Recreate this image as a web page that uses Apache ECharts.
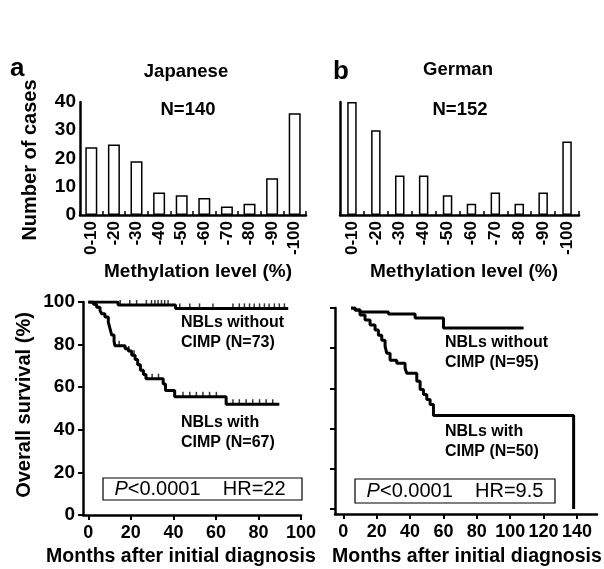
<!DOCTYPE html>
<html><head><meta charset="utf-8">
<script src="https://cdn.jsdelivr.net/npm/echarts@6/dist/echarts.min.js"></script>
<style>html,body{margin:0;padding:0;background:#fff}#c{width:604px;height:569px}</style>
</head><body><div id="c"></div>
<script>
// ---- data ----
const methylCats = ['0-10', '-20', '-30', '-40', '-50', '-60', '-70', '-80', '-90', '-100'];
const japaneseCounts = [24, 25, 19, 8, 7, 6, 3, 4, 13, 36];
const germanCounts = [40, 30, 14, 14, 7, 4, 8, 4, 8, 26];
const countTicks = [0, 10, 20, 30, 40];

const jpnWithout = [[0, 100], [14, 98.6], [41, 97], [94, 97]];
const jpnWith = [[0, 100], [2.4, 99], [3.9, 97.5], [5.5, 96], [6.3, 94.5], [7.8, 93], [9.4, 90.5], [10.2, 87.5],
  [11, 84.5], [12.1, 81.5], [12.5, 79.5], [17.3, 78], [18.8, 77], [20.4, 75], [22, 73], [23.2, 70.5], [24.5, 68],
  [25.9, 66], [27.1, 64], [35.2, 61.5], [36.3, 58.5], [40.6, 55.5], [64.8, 52], [89.8, 52]];
const jpnWithoutCensor = [15, 19.5, 22.7, 27.3, 29.7, 31.3, 32.8, 34.4, 35.9, 37.5, 43, 47.7, 52.3, 58.6,
  68, 71, 73.4, 75.8, 78, 80.5, 82.8, 85, 87.5, 89.8, 92.2];
const jpnWithCensor = [14.5, 19, 21.5, 30, 33, 44.5, 47.7, 50.8, 53.9, 57, 60.2, 68, 71, 74.2, 77.3, 80.5, 83.6, 86.7];

const gerWithout = [[4.6, 100], [7, 99], [10, 98], [27, 97], [43, 95], [60, 90], [108, 90]];
const gerWith = [[4.6, 100], [7, 99], [10, 96.5], [13, 94], [16, 91.5], [19, 89], [21, 86.5], [23, 84], [25, 81],
  [26, 77.5], [28, 74], [32, 72.5], [37, 70], [38, 67.5], [44, 63.5], [46, 59.5], [48, 57], [50, 54.5], [52, 52],
  [54, 46.5], [138, 0]];

const monthTicksA = [0, 20, 40, 60, 80, 100];
const monthTicksB = [0, 20, 40, 60, 80, 100, 120, 140];
const survTicks = [0, 20, 40, 60, 80, 100];

// ---- helpers ----
function survAt(curve, t) {
  let v = curve[0][1];
  for (const p of curve) { if (p[0] <= t) v = p[1]; }
  return v;
}
const FF = '"Liberation Sans", Arial, Helvetica, sans-serif';
const black = '#000';

function catX(grid) {
  return {
    type: 'category', gridIndex: grid, data: methylCats,
    axisLine: { show: true, onZero: false, lineStyle: { color: black, width: 2.5 } },
    axisTick: { show: true, inside: true, length: 4, lineStyle: { color: black, width: 1.5 } },
    axisLabel: { rotate: 90, color: black, fontFamily: FF, fontWeight: 'bold', fontSize: 17, margin: 6 },
    splitLine: { show: false }
  };
}
function countY(grid, showLabel) {
  return {
    type: 'value', gridIndex: grid, min: 0, max: 40, interval: 10,
    axisLine: { show: true, onZero: false, lineStyle: { color: black, width: 2.5 } },
    axisTick: { show: false },
    axisLabel: { show: showLabel, customValues: countTicks, color: black, fontFamily: FF, fontWeight: 'bold', fontSize: 19, margin: 4 },
    splitLine: { show: false }
  };
}
function monthX(grid, min, max, ticks) {
  return {
    type: 'value', gridIndex: grid, min: min, max: max,
    axisLine: { show: true, onZero: false, lineStyle: { color: black, width: 2.5 } },
    axisTick: { show: true, customValues: ticks, length: 5, lineStyle: { color: black, width: 2 } },
    axisLabel: { customValues: ticks, color: black, fontFamily: FF, fontWeight: 'bold', fontSize: 18, margin: 9 },
    splitLine: { show: false }
  };
}
function survY(grid, min, showLabel) {
  return {
    type: 'value', gridIndex: grid, min: min, max: 100,
    axisLine: { show: true, onZero: false, lineStyle: { color: black, width: 2.5 } },
    axisTick: { show: true, customValues: survTicks, length: 5, lineStyle: { color: black, width: 2 } },
    axisLabel: { show: showLabel, customValues: survTicks, color: black, fontFamily: FF, fontWeight: 'bold', fontSize: 19, margin: 8 },
    splitLine: { show: false }
  };
}
function kmLine(xi, data) {
  return { type: 'line', xAxisIndex: xi, yAxisIndex: xi, data: data, step: 'end', symbol: 'none',
    lineStyle: { color: black, width: 3 }, silent: true, animation: false };
}
function censor(xi, curve, times) {
  return { type: 'scatter', xAxisIndex: xi, yAxisIndex: xi, symbol: 'rect', symbolSize: [1.5, 6],
    symbolOffset: [0, -2], itemStyle: { color: black },
    data: times.map(t => [t, survAt(curve, t)]), silent: true, animation: false };
}
function bars(xi, data, w) {
  return { type: 'bar', xAxisIndex: xi, yAxisIndex: xi, data: data, barWidth: w,
    itemStyle: { color: '#fff', borderColor: black, borderWidth: 1.5 }, silent: true, animation: false };
}
function txt(x, y, text, size, opts) {
  opts = opts || {};
  return { type: 'text', x: x, y: y, rotation: opts.rot || 0, silent: true,
    style: { text: text, fill: black, font: (opts.weight || 'bold') + ' ' + size + 'px ' + FF,
      textAlign: opts.align || 'center', textVerticalAlign: 'middle', rich: opts.rich } };
}

const chart = echarts.init(document.getElementById('c'), null, { renderer: 'canvas' });
chart.setOption({
  animation: false,
  backgroundColor: '#fff',
  grid: [
    { left: 80, top: 102, width: 226, height: 113 },
    { left: 340, top: 102, width: 239, height: 113 },
    { left: 83, top: 302, width: 218, height: 213 },
    { left: 335, top: 308, width: 262, height: 206 }
  ],
  xAxis: [catX(0), catX(1), monthX(2, -2.5, 100, monthTicksA), monthX(3, -5, 152, monthTicksB)],
  yAxis: [countY(0, true), countY(1, false), survY(2, 0, true), survY(3, -2.5, false)],
  series: [
    bars(0, japaneseCounts, 12),
    bars(1, germanCounts, 9.5),
    kmLine(2, jpnWithout), kmLine(2, jpnWith),
    censor(2, jpnWithout, jpnWithoutCensor), censor(2, jpnWith, jpnWithCensor),
    kmLine(3, gerWithout), kmLine(3, gerWith)
  ],
  graphic: [
    txt(10, 69, 'a', 26, { align: 'left' }),
    txt(333, 72, 'b', 26, { align: 'left' }),
    txt(186, 72, 'Japanese', 18.5),
    txt(458, 70, 'German', 18.5),
    txt(188, 110, 'N=140', 18.5),
    txt(460, 110, 'N=152', 18.5),
    txt(30, 160, 'Number of cases', 20, { rot: Math.PI / 2 }),
    txt(198, 272, 'Methylation level (%)', 19),
    txt(464, 272, 'Methylation level (%)', 19),
    txt(24, 405, 'Overall survival (%)', 20, { rot: Math.PI / 2 }),
    txt(181, 557, 'Months after initial diagnosis', 19.5),
    txt(467, 557, 'Months after initial diagnosis', 19.5),
    txt(181, 323, 'NBLs without', 16, { align: 'left' }),
    txt(181, 343, 'CIMP (N=73)', 16, { align: 'left' }),
    txt(181, 423, 'NBLs with', 16, { align: 'left' }),
    txt(181, 443, 'CIMP (N=67)', 16, { align: 'left' }),
    txt(445, 343, 'NBLs without', 16, { align: 'left' }),
    txt(445, 363, 'CIMP (N=95)', 16, { align: 'left' }),
    txt(445, 432, 'NBLs with', 16, { align: 'left' }),
    txt(445, 452, 'CIMP (N=50)', 16, { align: 'left' }),
    { type: 'rect', silent: true, shape: { x: 103, y: 478, width: 199, height: 22 },
      style: { fill: 'none', stroke: black, lineWidth: 1.2 } },
    txt(200, 489, '{i|P}<0.0001    HR=22', 20, { weight: 'normal',
      rich: { i: { fontStyle: 'italic', fontFamily: FF, fontSize: 20 } } }),
    { type: 'rect', silent: true, shape: { x: 355, y: 479, width: 200, height: 24 },
      style: { fill: 'none', stroke: black, lineWidth: 1.2 } },
    txt(455, 491, '{i|P}<0.0001    HR=9.5', 20, { weight: 'normal',
      rich: { i: { fontStyle: 'italic', fontFamily: FF, fontSize: 20 } } })
  ]
});
</script></body></html>
